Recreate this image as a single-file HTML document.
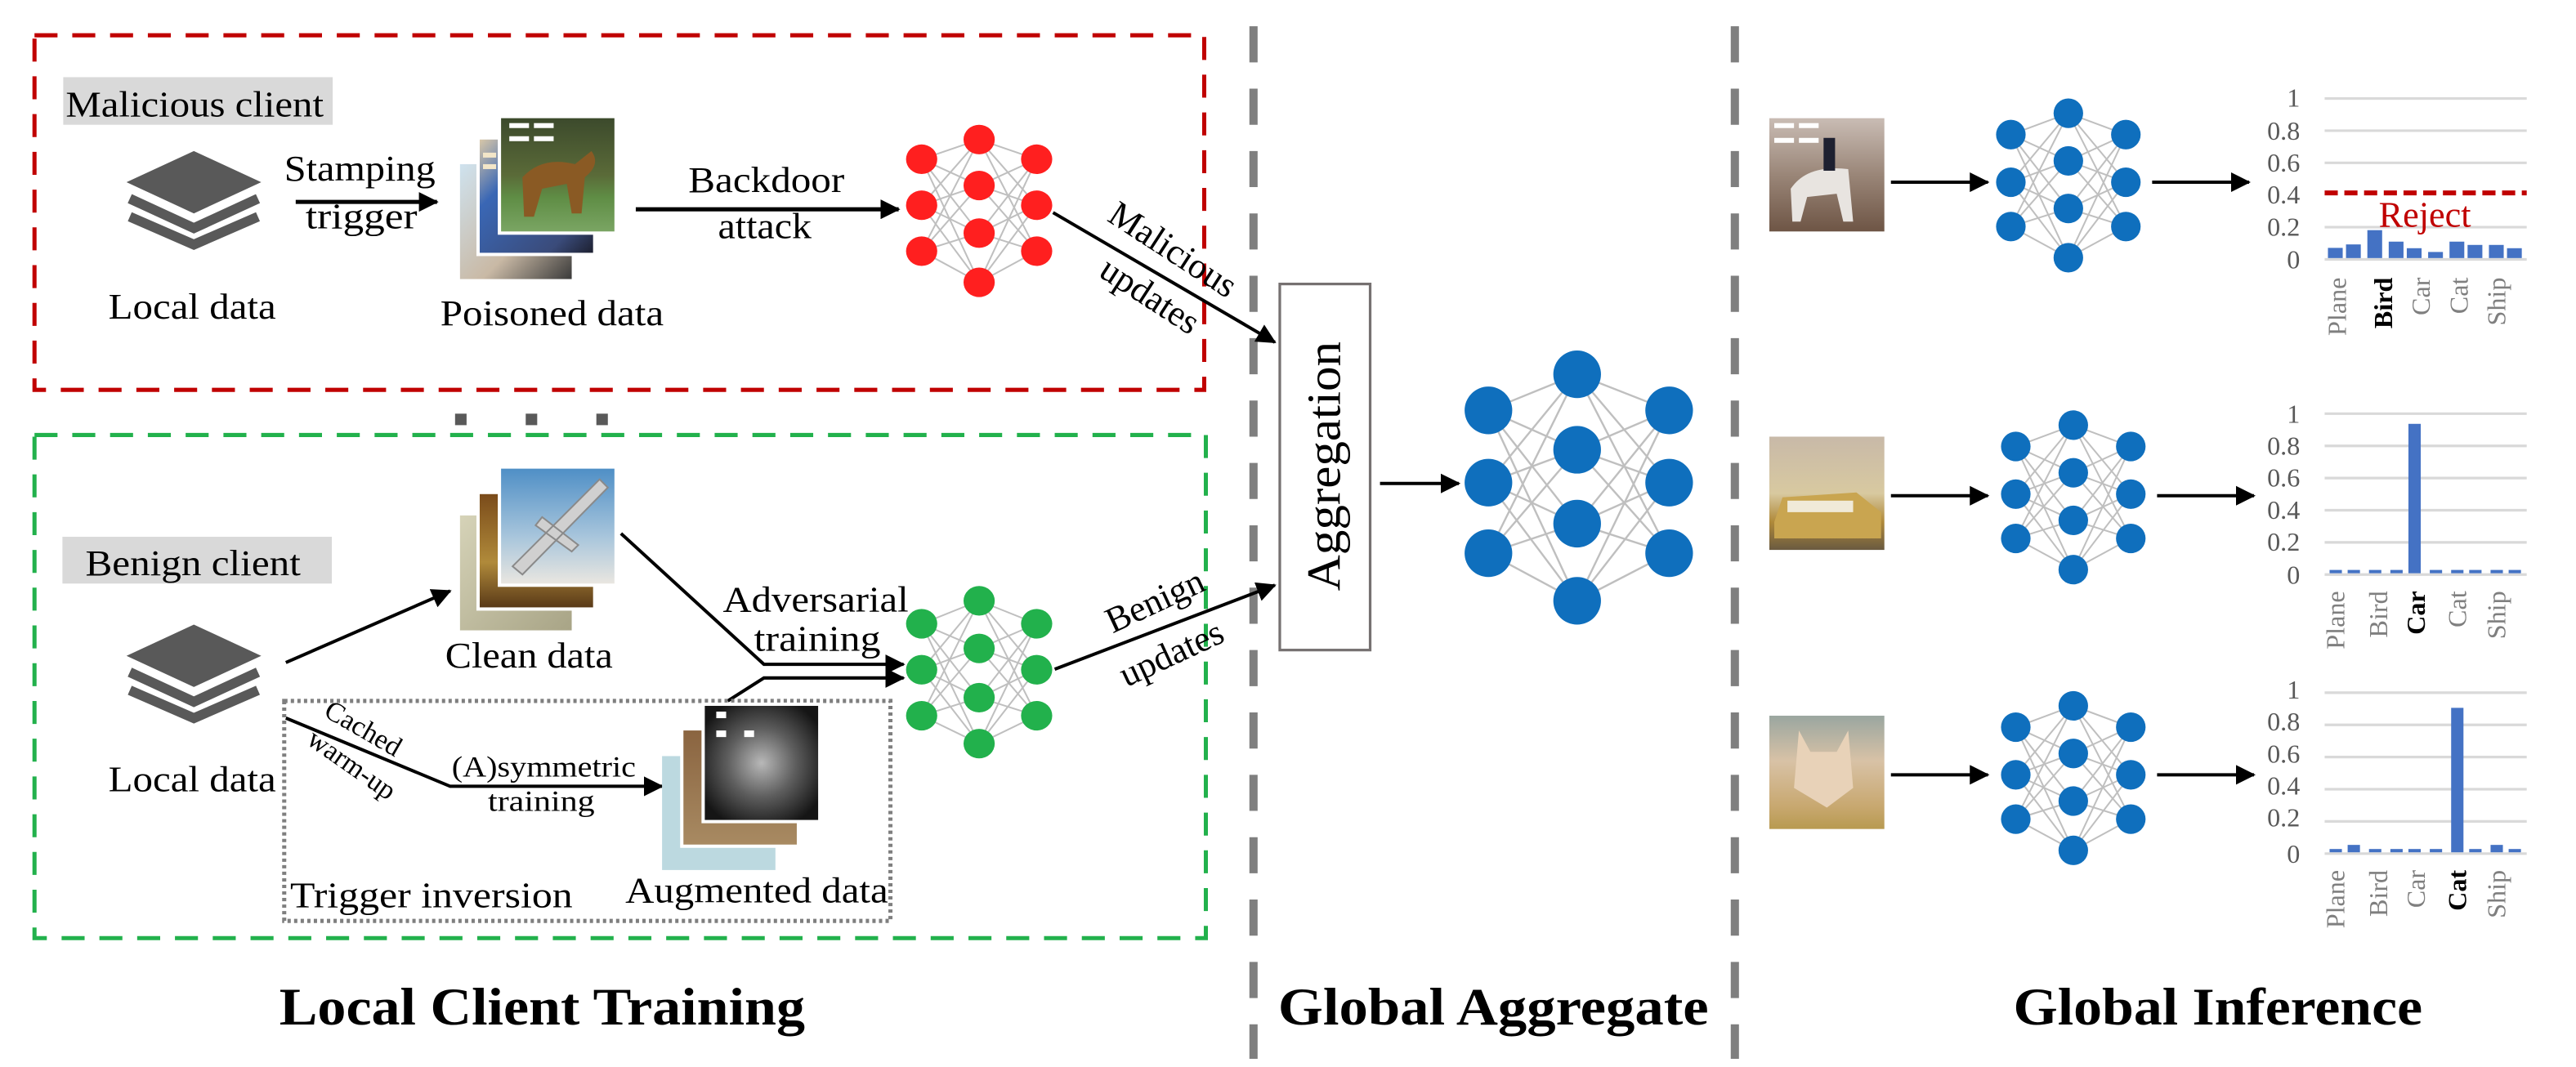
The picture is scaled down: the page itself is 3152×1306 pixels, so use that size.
<!DOCTYPE html>
<html><head><meta charset="utf-8">
<style>
html,body{margin:0;padding:0;background:#fff;}
svg{display:block;}
text{font-family:"Liberation Serif",serif;}
</style></head>
<body>
<svg id="s" width="3152" height="1306" viewBox="0 0 1568 650" preserveAspectRatio="none" xmlns="http://www.w3.org/2000/svg">
<defs>
<marker id="ah" markerUnits="userSpaceOnUse" markerWidth="12" markerHeight="12" refX="11" refY="6" orient="auto">
<path d="M0,0 L12,6 L0,12 z" fill="#000"/>
</marker>
<linearGradient id="horse" x1="0" y1="0" x2="0" y2="1">
<stop offset="0" stop-color="#3c4a2c"/><stop offset="0.5" stop-color="#5a6a38"/><stop offset="0.7" stop-color="#5f8d45"/><stop offset="1" stop-color="#7aa563"/></linearGradient>
<linearGradient id="blueimg" x1="0" y1="0" x2="1" y2="1">
<stop offset="0" stop-color="#d8c7a8"/><stop offset="0.3" stop-color="#3a67b5"/><stop offset="0.8" stop-color="#3a4b7a"/><stop offset="1" stop-color="#1d2030"/></linearGradient>
<linearGradient id="backimg" x1="0" y1="0" x2="1" y2="1">
<stop offset="0" stop-color="#cfe2ee"/><stop offset="0.6" stop-color="#c9b9a5"/><stop offset="1" stop-color="#3a3a3a"/></linearGradient>
<linearGradient id="plane" x1="0" y1="0" x2="0" y2="1">
<stop offset="0" stop-color="#4f8fc6"/><stop offset="0.6" stop-color="#a9c6dc"/><stop offset="1" stop-color="#e9e6e0"/></linearGradient>
<linearGradient id="brown" x1="0" y1="0" x2="0" y2="1">
<stop offset="0" stop-color="#7a4b1a"/><stop offset="0.6" stop-color="#b08a3a"/><stop offset="1" stop-color="#5a3a18"/></linearGradient>
<linearGradient id="beige" x1="0" y1="0" x2="1" y2="1">
<stop offset="0" stop-color="#d6d3b8"/><stop offset="1" stop-color="#a8a486"/></linearGradient>
<radialGradient id="car" cx="0.5" cy="0.5" r="0.6">
<stop offset="0" stop-color="#b8b8b8"/><stop offset="0.5" stop-color="#5e5e5e"/><stop offset="1" stop-color="#151515"/></radialGradient>
<linearGradient id="augbrown" x1="0" y1="0" x2="0" y2="1">
<stop offset="0" stop-color="#8a6440"/><stop offset="1" stop-color="#a88a62"/></linearGradient>
<linearGradient id="rider" x1="0" y1="0" x2="0" y2="1">
<stop offset="0" stop-color="#c9bcb4"/><stop offset="0.5" stop-color="#9a8678"/><stop offset="1" stop-color="#6e5545"/></linearGradient>
<linearGradient id="carimg" x1="0" y1="0" x2="0" y2="1">
<stop offset="0" stop-color="#c8b9a8"/><stop offset="0.5" stop-color="#d8c9a0"/><stop offset="0.75" stop-color="#b08a3a"/><stop offset="1" stop-color="#6a5a40"/></linearGradient>
<linearGradient id="catimg" x1="0" y1="0" x2="0" y2="1">
<stop offset="0" stop-color="#9aa6a0"/><stop offset="0.4" stop-color="#d8c2a6"/><stop offset="0.8" stop-color="#c8a870"/><stop offset="1" stop-color="#b89a50"/></linearGradient>
</defs>

<line x1="763" y1="16" x2="763" y2="645" stroke="#7f7f7f" stroke-width="5" stroke-dasharray="22 16"/>
<line x1="1056" y1="16" x2="1056" y2="645" stroke="#7f7f7f" stroke-width="5" stroke-dasharray="22 16"/>

<rect x="21" y="21.5" width="712" height="216" fill="none" stroke="#c00000" stroke-width="2.5" stroke-dasharray="14 9"/>
<rect x="21" y="265" width="713" height="306.5" fill="none" stroke="#22b14c" stroke-width="2.5" stroke-dasharray="14 9"/>
<rect x="277" y="252" width="7" height="7" fill="#595959"/>
<rect x="320" y="252" width="7" height="7" fill="#595959"/>
<rect x="363" y="252" width="7" height="7" fill="#595959"/>

<rect x="38.5" y="47" width="164" height="29" fill="#d9d9d9"/>
<text x="40" y="71" font-size="22" textLength="157" lengthAdjust="spacingAndGlyphs">Malicious client</text>
<g fill="#595959" stroke="#595959">
<polygon points="118,92 159,111 118,130 77,111" stroke="none"/>
<polyline points="79,121 118,139 157,121" fill="none" stroke-width="6"/>
<polyline points="79,132 118,149 157,132" fill="none" stroke-width="6"/>
</g>
<text x="66" y="194" font-size="22" textLength="102" lengthAdjust="spacingAndGlyphs">Local data</text>
<text x="173" y="110" font-size="22" textLength="92" lengthAdjust="spacingAndGlyphs">Stamping</text>
<text x="186" y="139" font-size="22" textLength="68" lengthAdjust="spacingAndGlyphs">trigger</text>
<line x1="180" y1="123" x2="266" y2="123" stroke="#000" stroke-width="2.5" marker-end="url(#ah)"/>
<rect x="280" y="100" width="68" height="70" fill="url(#backimg)"/>
<rect x="290" y="84" width="73" height="72" fill="#fff"/>
<rect x="292" y="85" width="69" height="69" fill="url(#blueimg)"/>
<rect x="303" y="70" width="73" height="73" fill="#fff"/>
<rect x="305" y="72" width="69" height="69" fill="url(#horse)"/>
<path d="M318,108 Q330,95 350,100 L360,92 Q366,100 356,108 L354,130 L348,130 L345,112 L330,115 L325,132 L319,132 Z" fill="#8a5a24"/>
<rect x="310" y="75" width="12" height="3" fill="#fff"/><rect x="325" y="75" width="12" height="3" fill="#fff"/>
<rect x="310" y="83" width="12" height="3" fill="#fff"/><rect x="325" y="83" width="12" height="3" fill="#fff"/>
<rect x="294" y="93" width="8" height="3" fill="#f3e6c8"/><rect x="294" y="100" width="8" height="3" fill="#f3e6c8"/>
<text x="268" y="198" font-size="22" textLength="136" lengthAdjust="spacingAndGlyphs">Poisoned data</text>
<text x="419" y="117" font-size="22" textLength="95" lengthAdjust="spacingAndGlyphs">Backdoor</text>
<text x="437" y="145" font-size="22" textLength="57" lengthAdjust="spacingAndGlyphs">attack</text>
<line x1="387" y1="127.5" x2="547" y2="127.5" stroke="#000" stroke-width="2.5" marker-end="url(#ah)"/>
<g id="nnRed"></g>
<line x1="641" y1="129.5" x2="776" y2="208.5" stroke="#000" stroke-width="2" marker-end="url(#ah)"/>
<text x="714" y="152" font-size="22" text-anchor="middle" dominant-baseline="central" transform="rotate(33 714 152)">Malicious</text>
<text x="700" y="180" font-size="22" text-anchor="middle" dominant-baseline="central" transform="rotate(33 700 180)">updates</text>

<rect x="38" y="327" width="164" height="28.5" fill="#d9d9d9"/>
<text x="52" y="350.5" font-size="22" textLength="131" lengthAdjust="spacingAndGlyphs">Benign client</text>
<g transform="translate(0,288.5)" fill="#595959" stroke="#595959">
<polygon points="118,92 159,111 118,130 77,111" stroke="none"/>
<polyline points="79,121 118,139 157,121" fill="none" stroke-width="6"/>
<polyline points="79,132 118,149 157,132" fill="none" stroke-width="6"/>
</g>
<text x="66" y="482" font-size="22" textLength="102" lengthAdjust="spacingAndGlyphs">Local data</text>
<line x1="174" y1="403.6" x2="274" y2="360" stroke="#000" stroke-width="2" marker-end="url(#ah)"/>
<rect x="280" y="314" width="68" height="70" fill="url(#beige)"/>
<rect x="290" y="299" width="73" height="73" fill="#fff"/>
<rect x="292" y="301" width="69" height="69" fill="url(#brown)"/>
<rect x="303" y="283.5" width="73" height="74" fill="#fff"/>
<rect x="305" y="285.5" width="69" height="70" fill="url(#plane)"/>
<path d="M312,345 L365,292 L370,297 L318,350 Z M330,315 L352,332 L348,336 L326,320 Z" fill="#d0d0d0" stroke="#8a8a8a" stroke-width="1"/>
<text x="271" y="406.7" font-size="22" textLength="102" lengthAdjust="spacingAndGlyphs">Clean data</text>
<polyline points="378,325 465,404.7 550,404.7" fill="none" stroke="#000" stroke-width="2" marker-end="url(#ah)"/>
<polyline points="443,427 465,413 550,413" fill="none" stroke="#000" stroke-width="2" marker-end="url(#ah)"/>
<text x="440" y="372.5" font-size="22" textLength="113" lengthAdjust="spacingAndGlyphs">Adversarial</text>
<text x="459" y="396.4" font-size="22" textLength="77" lengthAdjust="spacingAndGlyphs">training</text>
<g id="nnGreen"></g>
<line x1="642" y1="407.7" x2="776" y2="356.5" stroke="#000" stroke-width="2" marker-end="url(#ah)"/>
<text x="703" y="366" font-size="22" text-anchor="middle" dominant-baseline="central" transform="rotate(-25 703 366)">Benign</text>
<text x="713" y="398" font-size="22" text-anchor="middle" dominant-baseline="central" transform="rotate(-25 713 398)">updates</text>

<rect x="173" y="427" width="369" height="134" fill="none" stroke="#7f7f7f" stroke-width="2.5" stroke-dasharray="2 2"/>
<polyline points="174,437.4 274,479 403,479" fill="none" stroke="#000" stroke-width="2" marker-end="url(#ah)"/>
<text x="221" y="444" font-size="17" text-anchor="middle" dominant-baseline="central" transform="rotate(30 221 444)">Cached</text>
<text x="214" y="466" font-size="17" text-anchor="middle" dominant-baseline="central" transform="rotate(35 214 466)">warm-up</text>
<text x="275" y="473" font-size="18" textLength="112" lengthAdjust="spacingAndGlyphs">(A)symmetric</text>
<text x="297" y="494" font-size="18" textLength="65" lengthAdjust="spacingAndGlyphs">training</text>
<rect x="403" y="460.6" width="69" height="69.4" fill="#bcd9e0"/>
<rect x="414" y="443" width="73" height="73.5" fill="#fff"/>
<rect x="416" y="445" width="69" height="69.5" fill="url(#augbrown)"/>
<rect x="427" y="428" width="73" height="73.5" fill="#fff"/>
<rect x="429" y="430" width="69" height="69.5" fill="url(#car)"/>
<rect x="436" y="433.5" width="6" height="4" fill="#fff"/>
<rect x="436" y="445" width="6" height="4" fill="#fff"/><rect x="453" y="445" width="6" height="4" fill="#fff"/>
<text x="176.6" y="552.8" font-size="22" textLength="172" lengthAdjust="spacingAndGlyphs">Trigger inversion</text>
<text x="380.6" y="549.7" font-size="22" textLength="160" lengthAdjust="spacingAndGlyphs">Augmented data</text>

<rect x="779" y="173" width="55" height="223" fill="#fff" stroke="#767171" stroke-width="1.6"/>
<text x="806" y="284" font-size="29" text-anchor="middle" dominant-baseline="central" transform="rotate(-90 806 284)" textLength="152" lengthAdjust="spacingAndGlyphs">Aggregation</text>
<line x1="840" y1="294.5" x2="888" y2="294.5" stroke="#000" stroke-width="2" marker-end="url(#ah)"/>
<g id="nnBig"></g>

<rect x="1077" y="72" width="70" height="69" fill="url(#rider)"/>
<path d="M1090,115 Q1100,100 1125,103 L1128,135 L1122,135 L1118,118 L1100,120 L1096,135 L1091,135 Z" fill="#e8e4e0"/>
<rect x="1110" y="84" width="7" height="20" fill="#1e2030"/>
<rect x="1080" y="75" width="12" height="3" fill="#fff"/><rect x="1095" y="75" width="12" height="3" fill="#fff"/>
<rect x="1080" y="84" width="12" height="3" fill="#fff"/><rect x="1095" y="84" width="12" height="3" fill="#fff"/>
<rect x="1077" y="266" width="70" height="69" fill="url(#carimg)"/>
<path d="M1080,318 L1085,303 L1130,300 L1145,312 L1145,328 L1080,328 Z" fill="#c9a550"/>
<rect x="1088" y="305" width="40" height="7" fill="#f0ead8"/>
<rect x="1077" y="436" width="70" height="69" fill="url(#catimg)"/>
<path d="M1095,445 L1102,458 L1118,458 L1125,445 L1128,480 L1112,492 L1092,480 Z" fill="#e8d2b8"/>
<line x1="1151" y1="111" x2="1210" y2="111" stroke="#000" stroke-width="2" marker-end="url(#ah)"/>
<line x1="1310" y1="111" x2="1369" y2="111" stroke="#000" stroke-width="2" marker-end="url(#ah)"/>
<line x1="1151" y1="302" x2="1210" y2="302" stroke="#000" stroke-width="2" marker-end="url(#ah)"/>
<line x1="1313" y1="302" x2="1372" y2="302" stroke="#000" stroke-width="2" marker-end="url(#ah)"/>
<line x1="1151" y1="472" x2="1210" y2="472" stroke="#000" stroke-width="2" marker-end="url(#ah)"/>
<line x1="1313" y1="472" x2="1372" y2="472" stroke="#000" stroke-width="2" marker-end="url(#ah)"/>
<g id="nnR1"></g><g id="nnR2"></g><g id="nnR3"></g>

<g id="charts"></g>
<g font-size="16" fill="#595959" text-anchor="end">
<text x="1400" y="65">1</text><text x="1400" y="85">0.8</text><text x="1400" y="104.5">0.6</text><text x="1400" y="124">0.4</text><text x="1400" y="143.5">0.2</text><text x="1400" y="163.5">0</text>
<text x="1400" y="257.5">1</text><text x="1400" y="277">0.8</text><text x="1400" y="296.5">0.6</text><text x="1400" y="316">0.4</text><text x="1400" y="335.5">0.2</text><text x="1400" y="355.5">0</text>
<text x="1400" y="425.5">1</text><text x="1400" y="445">0.8</text><text x="1400" y="464.5">0.6</text><text x="1400" y="484">0.4</text><text x="1400" y="503.5">0.2</text><text x="1400" y="525.5">0</text>
</g>
<text x="1476" y="138" font-size="22" fill="#c00000" text-anchor="middle">Reject</text>
<g font-size="16" fill="#7f7f7f" text-anchor="end">
<text x="1428" y="169" transform="rotate(-90 1428 169)">Plane</text>
<text x="1456" y="169" transform="rotate(-90 1456 169)" fill="#000" font-weight="bold">Bird</text>
<text x="1479" y="169" transform="rotate(-90 1479 169)">Car</text>
<text x="1502" y="169" transform="rotate(-90 1502 169)">Cat</text>
<text x="1525" y="169" transform="rotate(-90 1525 169)">Ship</text>
<text x="1427" y="360" transform="rotate(-90 1427 360)">Plane</text>
<text x="1453" y="360" transform="rotate(-90 1453 360)">Bird</text>
<text x="1476" y="360" transform="rotate(-90 1476 360)" fill="#000" font-weight="bold">Car</text>
<text x="1501" y="360" transform="rotate(-90 1501 360)">Cat</text>
<text x="1525" y="360" transform="rotate(-90 1525 360)">Ship</text>
<text x="1427" y="530" transform="rotate(-90 1427 530)">Plane</text>
<text x="1453" y="530" transform="rotate(-90 1453 530)">Bird</text>
<text x="1476" y="530" transform="rotate(-90 1476 530)">Car</text>
<text x="1501" y="530" transform="rotate(-90 1501 530)" fill="#000" font-weight="bold">Cat</text>
<text x="1525" y="530" transform="rotate(-90 1525 530)">Ship</text>
</g>

<text x="330" y="624" font-size="32" font-weight="bold" text-anchor="middle" textLength="320" lengthAdjust="spacingAndGlyphs">Local Client Training</text>
<text x="909" y="624" font-size="32" font-weight="bold" text-anchor="middle" textLength="262" lengthAdjust="spacingAndGlyphs">Global Aggregate</text>
<text x="1350" y="624" font-size="32" font-weight="bold" text-anchor="middle" textLength="249" lengthAdjust="spacingAndGlyphs">Global Inference</text>
</svg>
<script>
var NS="http://www.w3.org/2000/svg";
function el(p,t,a){var e=document.createElementNS(NS,t);for(var k in a)e.setAttribute(k,a[k]);p.appendChild(e);return e;}
function nn(id,xs,ly,my,ry,col,rx,ryy,sw){
 var g=document.getElementById(id);
 ly.forEach(function(a){my.forEach(function(b){el(g,"line",{x1:xs[0],y1:a,x2:xs[1],y2:b,stroke:"#bfbfbf","stroke-width":sw});});});
 my.forEach(function(a){ry.forEach(function(b){el(g,"line",{x1:xs[1],y1:a,x2:xs[2],y2:b,stroke:"#bfbfbf","stroke-width":sw});});});
 ly.forEach(function(y){el(g,"ellipse",{cx:xs[0],cy:y,rx:rx,ry:ryy,fill:col});});
 my.forEach(function(y){el(g,"ellipse",{cx:xs[1],cy:y,rx:rx,ry:ryy,fill:col});});
 ry.forEach(function(y){el(g,"ellipse",{cx:xs[2],cy:y,rx:rx,ry:ryy,fill:col});});
}
nn("nnRed",[561,596,631],[97,125,153],[85,113,142,172],[97,125,153],"#ff1f1f",9.5,9,1);
nn("nnGreen",[561,596,631],[380,408,436],[366,395,425,453],[380,408,436],"#22b14c",9.5,9,1);
nn("nnBig",[906,960,1016],[250,294,337],[228,274,319,366],[250,294,337],"#0f6fbd",14.5,14.5,1.2);
nn("nnR1",[1224,1259,1294],[82,111,138],[69,98,127,157],[82,111,138],"#0f6fbd",9,9,1);
nn("nnR2",[1227,1262,1297],[272,301,328],[259,288,317,347],[272,301,328],"#0f6fbd",9,9,1);
nn("nnR3",[1227,1262,1297],[443,472,499],[430,459,488,518],[443,472,499],"#0f6fbd",9,9,1);
var c=document.getElementById("charts");
var starts=[1418,1429,1442,1455,1466,1479,1492,1503,1516,1527];
function chart(y0,vals,w,off,skip){
 for(var i=0;i<=5;i++){var y=y0-i*19.6; if(skip&&i==2)continue; el(c,"line",{x1:1415,y1:y,x2:1538,y2:y,stroke:"#d9d9d9","stroke-width":1.6});}
 vals.forEach(function(v,i){el(c,"rect",{x:starts[i]+off,y:y0-v-0.8,width:w,height:v,fill:"#4472c4"});});
}
chart(158,[6.2,8.3,17,10,6,3.7,10,8,8,6],9,-1,true);
el(c,"line",{x1:1415,y1:117.5,x2:1538,y2:117.5,stroke:"#c00000","stroke-width":3,"stroke-dasharray":"8 4"});
chart(350,[2,2,2,2,91,2,2,2,2,2],7.5,0,false);
chart(520,[2,4.5,2,2,2,2,88,2,4.5,2],7.5,0,false);
</script>
</body></html>
